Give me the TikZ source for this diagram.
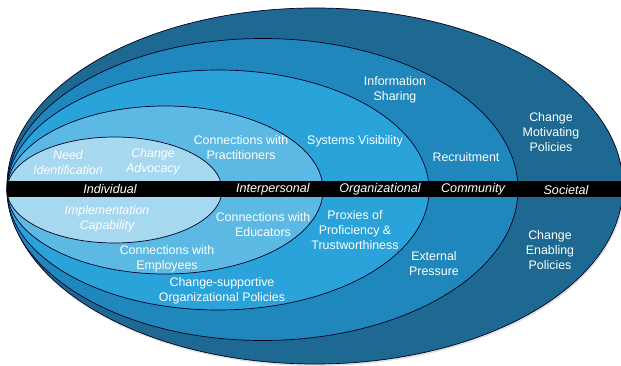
\documentclass[tikz,border=0pt]{standalone}
\usepackage{fontspec}
\setmainfont{Liberation Sans}
\begin{document}
\begin{tikzpicture}[x=1pt,y=-1pt,
  ring/.style={draw=black!85!blue, line width=0.7pt},
  lbl/.style={text=white, align=center, font=\fontsize{12.4}{15}\selectfont, inner sep=0pt},
  ilbl/.style={lbl, font=\fontsize{12.4}{15}\selectfont\itshape},
  level/.style={text=white, inner sep=0pt, font=\fontsize{12.6}{15}\selectfont\itshape}]
\definecolor{societal}{HTML}{1E6991}
\definecolor{community}{HTML}{1F87BC}
\definecolor{organizational}{HTML}{29A3DA}
\definecolor{interpersonal}{HTML}{5BB9E4}
\definecolor{individual}{HTML}{A6D8F0}
\useasboundingbox (0,0) rectangle (621,366);
\clip (0,0) rectangle (621,366);
% nested spheres, outermost first
\fill[black!25, opacity=0.5] (316,188) ellipse [x radius=308, y radius=178];
\filldraw[ring, fill=societal] (315,186) ellipse [x radius=308, y radius=178];
\filldraw[ring, fill=community] (262.5,189.5) ellipse [x radius=255.5, y radius=151];
\filldraw[ring, fill=organizational] (218,190) ellipse [x radius=211, y radius=120];
\filldraw[ring, fill=interpersonal] (165,190) ellipse [x radius=158, y radius=84];
\filldraw[ring, fill=individual] (114.5,190) ellipse [x radius=107.5, y radius=53];
% level band
\fill[black] (7,181) rectangle (621,197.5);
\node[level] (lInd) at (110,189.5) {Individual};
\node[level] (lInt) at (273,189.5) {Interpersonal};
\node[level] (lOrg) at (380,189.5) {Organizational};
\node[level] (lCom) at (473,189.5) {Community};
\node[level] (lSoc) at (566,189.5) {Societal};
% individual
\node[ilbl] (need) at (68,163) {Need\\Identification};
\node[ilbl] (adv) at (153,162) {Change\\Advocacy};
\node[ilbl] (impl) at (107,219) {Implementation\\Capability};
% interpersonal
\node[lbl] (prac) at (241,148) {Connections with\\Practitioners};
\node[lbl] (edu) at (263,225) {Connections with\\Educators};
\node[lbl] (emp) at (167,258.5) {Connections with\\Employees};
% organizational
\node[lbl] (sysv) at (355,141) {Systems Visibility};
\node[lbl] (prox) at (355,230) {Proxies of\\Proficiency \&\\Trustworthiness};
\node[lbl] (csop) at (222,291) {Change-supportive\\Organizational Policies};
% community
\node[lbl] (info) at (395,89.5) {Information\\Sharing};
\node[lbl] (recr) at (466,157) {Recruitment};
\node[lbl] (ext) at (434,264) {External\\Pressure};
% societal
\node[lbl] (cmp) at (551,132) {Change\\Motivating\\Policies};
\node[lbl] (cep) at (550,250) {Change\\Enabling\\Policies};
\end{tikzpicture}
\end{document}
